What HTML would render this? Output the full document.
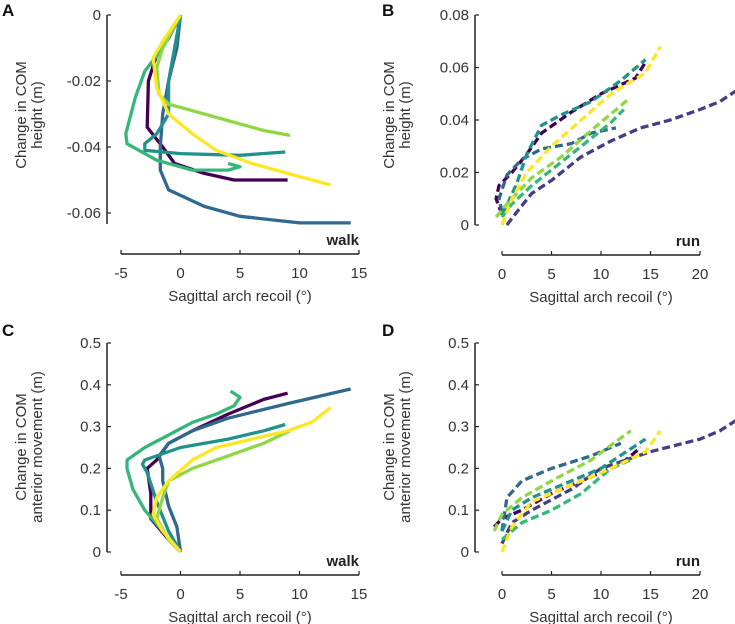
<!DOCTYPE html>
<html><head><meta charset="utf-8"><style>
body{margin:0;background:#fff;}
svg{display:block;font-family:"Liberation Sans",sans-serif;}
</style></head><body>
<svg id="fig" width="735" height="624" viewBox="0 0 735 624"></svg>
<script>
const walkColors = ["#440154","#31688e","#21918c","#35b779","#8fd744","#fde725"];
const runColors = ["#440154","#433e85","#31688e","#21918c","#35b779","#8fd744","#fde725"];
const walkNames = ["purple","blue","teal","green","lightgreen","yellow"];
const runNames = ["purple","indigo","blue","teal","green","lightgreen","yellow"];

const walkHeight = [
 [[0,0],[-1,-0.007],[-2,-0.012],[-2.7,-0.02],[-2.8,-0.034],[-1.5,-0.04],[-0.5,-0.045],[2,-0.048],[4.5,-0.05],[9,-0.05]],
 [[0,0],[-0.3,-0.01],[-1,-0.02],[-1.5,-0.03],[-1.7,-0.04],[-1.7,-0.047],[-1,-0.053],[2,-0.058],[5,-0.061],[10,-0.063],[14.3,-0.063]],
 [[0,0],[-0.5,-0.01],[-1,-0.02],[-1,-0.03],[-2,-0.036],[-3,-0.039],[-3,-0.041],[0,-0.042],[5,-0.0425],[8.8,-0.0415]],
 [[0,0],[-1.5,-0.01],[-3,-0.017],[-3.8,-0.025],[-4.6,-0.036],[-4.5,-0.039],[-2,-0.044],[1,-0.047],[4,-0.047],[5,-0.046],[4,-0.045]],
 [[0,0],[-1.5,-0.01],[-2,-0.016],[-1.8,-0.024],[-1,-0.027],[1,-0.029],[4,-0.032],[7,-0.035],[9.2,-0.0365]],
 [[0,0],[-1.5,-0.008],[-2.3,-0.013],[-2,-0.022],[-1,-0.03],[1,-0.036],[3,-0.041],[6,-0.045],[9,-0.048],[12.6,-0.0515]]
];
const walkAnterior = [
 [[0,0],[-1,0.03],[-2.5,0.08],[-2.5,0.14],[-2.8,0.2],[-2,0.22],[-1,0.26],[1,0.29],[4,0.33],[7,0.365],[9,0.38]],
 [[0,0],[-0.3,0.06],[-1,0.11],[-1.5,0.17],[-1.5,0.2],[-1.8,0.23],[-1,0.26],[1,0.29],[4,0.32],[9,0.355],[14.3,0.39]],
 [[0,0],[-1,0.05],[-2,0.12],[-2.8,0.19],[-3.2,0.21],[-3,0.22],[0,0.25],[4,0.27],[7,0.29],[8.8,0.305]],
 [[0,0],[-1.5,0.05],[-3,0.1],[-4,0.15],[-4.5,0.2],[-4.5,0.22],[-3,0.25],[-1,0.28],[1,0.31],[3,0.33],[4.5,0.35],[5,0.37],[4.2,0.385]],
 [[0,0],[-1,0.03],[-2,0.08],[-1.5,0.13],[-1,0.17],[1,0.2],[4,0.23],[7,0.26],[9.2,0.29]],
 [[0,0],[-1.5,0.05],[-2.3,0.09],[-2,0.13],[-1,0.17],[1,0.22],[3,0.25],[6,0.27],[9,0.29],[11,0.31],[12.6,0.345]]
];
const runHeight = [
 [[0,0.004],[-0.6,0.01],[-0.3,0.015],[1,0.02],[2.5,0.027],[4,0.035],[7,0.043],[10,0.05],[13.5,0.056],[14.5,0.062]],
 [[0.5,0],[1.5,0.005],[3,0.012],[5,0.017],[8,0.026],[11,0.032],[14,0.037],[17,0.04],[20,0.044],[22,0.047],[24,0.052]],
 [[0,0.005],[-0.3,0.01],[0.5,0.019],[2,0.025],[4,0.029],[7,0.031],[9,0.035],[11.5,0.037]],
 [[0,0.004],[0.8,0.01],[1.5,0.016],[2.5,0.027],[4,0.038],[6,0.042],[9,0.047],[12,0.055],[14.5,0.063]],
 [[0,0.003],[1,0.008],[3,0.015],[5,0.021],[8,0.03],[11,0.039],[12.3,0.044]],
 [[-0.6,0.003],[0.5,0.008],[3,0.018],[6,0.026],[9,0.036],[12.8,0.048]],
 [[0,0],[1,0.01],[2.5,0.02],[5,0.03],[8,0.04],[11,0.05],[14.5,0.058],[16,0.068]]
];
const runAnterior = [
 [[-0.8,0.06],[0,0.08],[2,0.1],[5,0.14],[9,0.18],[12,0.21],[14,0.25]],
 [[0,0.02],[1,0.07],[3,0.1],[7,0.15],[10,0.2],[15,0.24],[20,0.27],[22,0.29],[24,0.32]],
 [[0,0.05],[0.5,0.13],[2,0.17],[5,0.2],[9,0.23],[12,0.26]],
 [[0,0.05],[1,0.1],[3,0.13],[6,0.16],[10,0.2],[14.5,0.27]],
 [[0,0.03],[2,0.07],[5,0.1],[8,0.14],[11,0.2],[13,0.22]],
 [[-0.8,0.05],[0,0.09],[2,0.13],[5,0.17],[9,0.22],[13,0.29]],
 [[0,0],[1,0.06],[3,0.12],[7,0.16],[11,0.2],[14.5,0.24],[16,0.29]]
];
const walkXTicks = [-5,0,5,10,15];
const runXTicks = [0,5,10,15,20];
const heightWalkTicks = [0,-0.02,-0.04,-0.06];
const heightWalkLabels = ["0","-0.02","-0.04","-0.06"];
const heightRunTicks = [0,0.02,0.04,0.06,0.08];
const heightRunLabels = ["0","0.02","0.04","0.06","0.08"];
const anteriorTicks = [0,0.1,0.2,0.3,0.4,0.5];
const anteriorLabels = ["0","0.1","0.2","0.3","0.4","0.5"];

const NS="http://www.w3.org/2000/svg";
const svg=document.getElementById('fig');
function mk(tag,attrs,parent,text){const e=document.createElementNS(NS,tag);for(const k in attrs)e.setAttribute(k,attrs[k]);if(text!==undefined)e.textContent=text;(parent||svg).appendChild(e);return e;}

function panel(p){
  const g=mk('g',{});
  
  
  const sx=v=>p.x0+(v-p.xmin)/(p.xmax-p.xmin)*(p.x1-p.x0);
  const sy=v=>p.y0+(v-p.ymin)/(p.ymax-p.ymin)*(p.y1-p.y0);
  const L=mk('text',{x:p.lx,y:p.ly,'font-size':17,'font-weight':'bold',fill:'#111'},g,p.letter);
  
  
  const ya=mk('g',{},g);
  
  
  mk('line',{x1:p.yax,x2:p.yax,y1:sy(p.ymin)-p.yext1,y2:sy(p.ymax)+p.yext2,stroke:'#222','stroke-width':1.5},ya);
  p.yt.forEach((t,i)=>{const y=sy(t);
    mk('line',{x1:p.yax,x2:p.yax+4,y1:y,y2:y,stroke:'#222','stroke-width':1.2},ya);
    const tl=mk('text',{x:p.yax-6,y:y+5,'font-size':15,'text-anchor':'end',fill:'#333'},ya,p.ytl[i]);
    
    
  });
  const yt=mk('text',{transform:`translate(${p.ytx},${p.ytc}) rotate(-90)`,'font-size':15,'text-anchor':'middle',fill:'#333'},g);
  
  
  mk('tspan',{x:0,dy:0},yt,'Change in COM');
  mk('tspan',{x:0,dy:16},yt,p.ytitle2);
  const xa=mk('g',{},g);
  
  
  mk('line',{x1:sx(p.xmin),x2:sx(p.xmax),y1:p.xay,y2:p.xay,stroke:'#222','stroke-width':1.5},xa);
  p.xt.forEach(t=>{const x=sx(t);
    mk('line',{x1:x,x2:x,y1:p.xay,y2:p.xay-4,stroke:'#222','stroke-width':1.2},xa);
    const tl=mk('text',{x:x,y:p.xay+24,'font-size':15,'text-anchor':'middle',fill:'#333'},xa,String(t));
    
    
  });
  const xt=mk('text',{x:(sx(p.xmin)+sx(p.xmax))/2,y:p.xay+47,'font-size':15,'text-anchor':'middle',fill:'#333'},g,'Sagittal arch recoil (°)');
  
  
  const gt=mk('text',{x:sx(p.xmax),y:p.xay-9,'font-size':15,'font-weight':'bold','text-anchor':'end',fill:'#222'},g,p.gait);
  
  
  p.series.forEach((s,i)=>{
    const d=s.map((pt,j)=>(j?'L':'M')+sx(pt[0]).toFixed(1)+','+sy(pt[1]).toFixed(1)).join(' ');
    const a={d:d,fill:'none',stroke:p.colors[i],'stroke-width':3.3,'stroke-linejoin':'round','stroke-linecap':'butt'};
    if(p.dash)a['stroke-dasharray']='8 4';
    const path=mk('path',a,g);
    
    
  });
}
panel({letter:'A',lx:2,ly:16,xmin:-5,xmax:15,x0:121,x1:359,ymin:-0.06,ymax:0,y0:213,y1:15,yax:107,yext1:-11,yext2:0,
  yt:heightWalkTicks,ytl:heightWalkLabels,ytx:26,ytc:115,ytitle2:'height (m)',xt:walkXTicks,xay:254,gait:'walk',series:walkHeight,colors:walkColors,names:walkNames,dash:false});
panel({letter:'B',lx:382,ly:16,xmin:0,xmax:20,x0:502,x1:700,ymin:0,ymax:0.08,y0:225,y1:15,yax:475,yext1:0,yext2:0,
  yt:heightRunTicks,ytl:heightRunLabels,ytx:394,ytc:115,ytitle2:'height (m)',xt:runXTicks,xay:255,gait:'run',series:runHeight,colors:runColors,names:runNames,dash:true});
panel({letter:'C',lx:2,ly:336,xmin:-5,xmax:15,x0:121,x1:359,ymin:0,ymax:0.5,y0:552,y1:343,yax:107,yext1:0,yext2:0,
  yt:anteriorTicks,ytl:anteriorLabels,ytx:26,ytc:447,ytitle2:'anterior movement (m)',xt:walkXTicks,xay:575,gait:'walk',series:walkAnterior,colors:walkColors,names:walkNames,dash:false});
panel({letter:'D',lx:382,ly:336,xmin:0,xmax:20,x0:502,x1:700,ymin:0,ymax:0.5,y0:552,y1:343,yax:475,yext1:0,yext2:0,
  yt:anteriorTicks,ytl:anteriorLabels,ytx:394,ytc:447,ytitle2:'anterior movement (m)',xt:runXTicks,xay:575,gait:'run',series:runAnterior,colors:runColors,names:runNames,dash:true});
</script>
</body></html>
